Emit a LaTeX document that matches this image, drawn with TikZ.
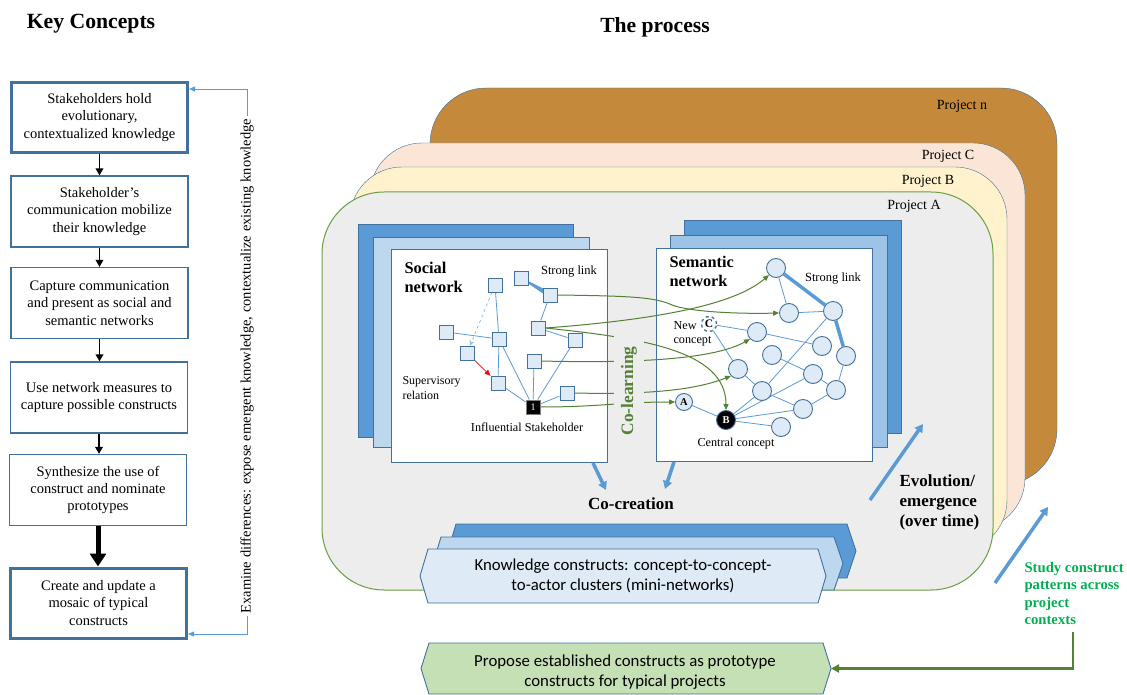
\documentclass[tikz,border=0pt]{standalone}
\usepackage{fontspec}
\setmainfont{Liberation Serif}
\newfontfamily\carl{Carlito}
\usetikzlibrary{arrows.meta,calc}
\pgfdeclarelayer{bottom}
\pgfdeclarelayer{edgelayer}
\pgfsetlayers{bottom,edgelayer,main}
\definecolor{dblue}{HTML}{5B9BD5}
\definecolor{bord}{HTML}{41719C}
\definecolor{lblue}{HTML}{BDD7EE}
\definecolor{mblue}{HTML}{9DC3E6}
\definecolor{pale}{HTML}{DEEBF7}
\definecolor{projn}{HTML}{C5893B}
\definecolor{peach}{HTML}{FBE5D6}
\definecolor{cream}{HTML}{FFF2CC}
\definecolor{bg}{HTML}{EDEDED}
\definecolor{dgreen}{HTML}{548235}
\definecolor{agreen}{HTML}{6A9F45}
\definecolor{sgreen}{HTML}{00B050}
\definecolor{pgreen}{HTML}{C5E0B4}
\tikzset{
  kbox/.style={draw=bord, line width=1.2pt, fill=white, minimum width=177pt, minimum height=71pt, align=center, font=\fontsize{14.5}{17.3}\selectfont, inner sep=1pt},
  kthick/.style={kbox, line width=3pt, minimum width=176pt, minimum height=70pt},
  karrow/.style={line width=1.8pt, -{Triangle[length=7pt,width=7.5pt]}},
  kbig/.style={line width=5pt, -{Triangle[length=13pt,width=16pt]}},
  fbline/.style={draw=dblue, line width=0.8pt},
  sq/.style={draw=bord, fill=pale, line width=0.9pt, minimum size=14pt, inner sep=0pt},
  isq/.style={sq, fill=black, draw=gray, text=white, font=\fontsize{10}{10}\selectfont},
  cn/.style={circle, draw=bord, fill=pale, line width=0.9pt, minimum size=19pt, inner sep=0pt},
  an/.style={cn, minimum size=17pt, font=\bfseries\fontsize{10.5}{10.5}\selectfont},
  bn/.style={cn, fill=black, draw=bord, text=white, font=\bfseries\fontsize{10.5}{10.5}\selectfont},
  ccn/.style={circle, draw=bord, dashed, line width=1.3pt, fill=white, minimum size=15pt, inner sep=0pt, font=\bfseries\fontsize{11.5}{11.5}\selectfont},
  lnk/.style={draw=dblue, line width=0.8pt},
  slnk/.style={draw=dblue, line width=3.5pt},
  garrow/.style={draw=dgreen, line width=1pt, -{Triangle[length=6pt,width=5pt]}},
  bigarrow/.style={draw=dblue, line width=3.5pt, -{Triangle[length=8pt,width=9pt]}},
  plabel/.style={font=\fontsize{14}{16}\selectfont},
  small/.style={font=\fontsize{12.2}{14}\selectfont},
  hexfront/.style={draw=bord, line width=0.9pt, fill=pale},
}
\begin{document}
\begin{tikzpicture}[x=1pt,y=-1pt]
\useasboundingbox (0,0) rectangle (1127,695);

% ---------- background layer ----------
\begin{pgfonlayer}{bottom}
\draw[draw=bord, fill=projn, rounded corners=56pt] (430,88) rectangle (1057,485);
\draw[draw=bord, fill=peach, rounded corners=52pt] (370,143) rectangle (1025,530);
\draw[draw=bord, fill=cream, rounded corners=52pt] (350,167) rectangle (1007,552);
\draw[draw=agreen, line width=1pt, fill=bg, rounded corners=62pt] (322,192) rectangle (993,590);
% social panels
\draw[draw=bord, fill=dblue] (358,224) rectangle (573,437);
\draw[draw=bord, fill=lblue] (373,237) rectangle (589,447);
\draw[draw=bord, fill=white] (391,249) rectangle (607,462);
% semantic panels
\draw[draw=bord, fill=dblue] (684,220) rectangle (901,433);
\draw[draw=bord, fill=mblue] (670,235) rectangle (887,447);
\draw[draw=bord, fill=white] (656,248) rectangle (872,461);
% knowledge construct hexagons
\draw[draw=bord, line width=0.9pt, fill=dblue] (456,524) -- (847,524) -- (856,551) -- (847,578) -- (456,578) -- (448,551) -- cycle;
\draw[draw=bord, line width=0.9pt, fill=lblue] (441,537) -- (834,537) -- (843,563.5) -- (834,590) -- (441,590) -- (433,563.5) -- cycle;
\draw[hexfront] (428,549) -- (818,549) -- (826,576) -- (818,603) -- (428,603) -- (420,576) -- cycle;
% prototype hexagon
\draw[draw=bord, line width=0.9pt, fill=pgreen] (429,643) -- (823,643) -- (831,668.5) -- (823,694) -- (429,694) -- (421,668.5) -- cycle;
\end{pgfonlayer}

% ---------- titles ----------
\node[font=\bfseries\fontsize{21.7}{24}\selectfont] (tkc) at (91,24) {Key Concepts};
\node[font=\bfseries\fontsize{21.6}{24}\selectfont] (tpr) at (655,27) {The process};

% ---------- key concepts column ----------
\node[kthick] (k1) at (99.5,117.5) {Stakeholders hold\\evolutionary,\\contextualized knowledge};
\node[kbox] (k2) at (99.5,211.5) {Stakeholder’s\\communication mobilize\\their knowledge};
\node[kbox] (k3) at (99.5,303) {Capture communication\\and present as social and\\semantic networks};
\node[kbox] (k4) at (99,397.5) {Use network measures to\\capture possible constructs};
\node[kbox] (k5) at (98,490) {Synthesize the use of\\construct and nominate\\prototypes};
\node[kthick] (k6) at (98.5,603) {Create and update a\\mosaic of typical\\constructs};

\draw[karrow] (k1.south) -- (k1.south |- k2.north);
\draw[karrow] (k2.south) -- (k2.south |- k3.north);
\draw[karrow] (k3.south) -- (k3.south |- k4.north);
\draw[karrow] (k4.south) -- (k4.south |- k5.north);
\draw[kbig] (k5.south) -- (k5.south |- k6.north);

\coordinate (fbA) at (247,634);
\coordinate (fbB) at (247,89);
\begin{pgfonlayer}{edgelayer}
\draw[fbline, {Triangle[length=6pt,width=5pt]}-{Triangle[length=6pt,width=5pt]}] (k6.east |- fbA) -- (fbA) -- (fbB) -- (k1.east |- fbB);
\end{pgfonlayer}
\node[rotate=90, fill=white, inner xsep=3pt, inner ysep=1pt, font=\fontsize{14.5}{16}\selectfont] (fbt) at (247,366) {Examine differences: expose emergent knowledge, contextualize existing knowledge};

% ---------- project labels ----------
\node[plabel] (pn) at (962,106) {Project n};
\node[plabel] (pc) at (948,156) {Project C};
\node[plabel] (pb) at (928,181) {Project B};
\node[plabel] (pa) at (914,206) {Project A};

% ---------- social network ----------
\node[anchor=west, align=left, font=\bfseries\fontsize{16.4}{19}\selectfont] (soct) at (401,277.5) {Social\\network};
\node[font=\fontsize{12.5}{14}\selectfont] (sl1) at (569,272) {Strong link};
\node[anchor=west, align=left, font=\fontsize{12}{15}\selectfont] (supr) at (399,388.5) {Supervisory\\relation};
\node[small] (infl) at (527,427) {Influential Stakeholder};

\node[sq] (n1) at (521,278) {};
\node[sq] (n2) at (550,295) {};
\node[sq] (n3) at (495,285) {};
\node[sq] (n4) at (446,332) {};
\node[sq] (n5) at (499,339) {};
\node[sq] (n6) at (538,328) {};
\node[sq] (n7) at (575,340) {};
\node[sq] (n8) at (467,353) {};
\node[sq] (n9) at (498,383) {};
\node[sq] (n10) at (534,361) {};
\node[sq] (n11) at (567,393) {};
\node[isq] (inf) at (533,407) {1};

% ---------- semantic network ----------
\node[anchor=west, align=left, font=\bfseries\fontsize{16.3}{19}\selectfont] (semt) at (666,271.5) {Semantic\\network};
\node[font=\fontsize{12.5}{14}\selectfont] (sl2) at (833,279) {Strong link};
\node[anchor=west, align=left, small] (newc) at (670,334) {New\\concept};
\node[small] (cenc) at (736,444) {Central concept};

\node[cn] (s1) at (776,268) {};
\node[cn] (s2) at (789,313) {};
\node[cn] (s3) at (833,311) {};
\node[ccn] (C) at (709,324) {C};
\node[cn] (s4) at (757,332) {};
\node[cn] (s5) at (822,346) {};
\node[cn] (s6) at (772,355) {};
\node[cn] (s7) at (846,356) {};
\node[cn] (s8) at (738,369) {};
\node[cn] (s9) at (813,374) {};
\node[cn] (s10) at (762,391) {};
\node[cn] (s11) at (836,390) {};
\node[an] (A) at (684,402) {A};
\node[cn] (s12) at (803,409) {};
\node[bn] (B) at (726,420) {B};
\node[cn] (s13) at (781,427) {};

% ---------- edges ----------
\begin{pgfonlayer}{edgelayer}
\fill[dblue] ($(n1)!0.4pt!90:(n2)$) -- ($(n1)!0.4pt!-90:(n2)$) -- ($(n2)!2.8pt!90:(n1)$) -- ($(n2)!2.8pt!-90:(n1)$) -- cycle;
\draw[lnk] (n2) -- (n6);
\draw[lnk] (n3) -- (n5);
\draw[lnk] (n4) -- (n5);
\draw[lnk] (n5) -- (n9);
\draw[lnk] (n5) -- (inf);
\draw[lnk] (n6) -- (n7);
\draw[lnk] (n7) -- (inf);
\draw[lnk] (n10) -- (inf);
\draw[lnk] (n9) -- (inf);
\draw[lnk] (n11) -- (inf);
\draw[draw=dblue!70, line width=0.7pt, dashed, -{Stealth[length=5pt,width=5pt,open]}] (n3) -- (n8);
\draw[draw=red, line width=0.7pt, -{Triangle[length=6pt,width=5pt]}] (n8) -- (n9);

\draw[slnk] (s1) -- (s3);
\draw[slnk] (s3) -- (s7);
\draw[lnk] (s1) -- (s2);
\draw[lnk] (s2) -- (s3);
\draw[lnk] (C) -- (s4);
\draw[lnk] (C) -- (s8);
\draw[lnk] (s4) -- (s5);
\draw[lnk] (s3) -- (s10);
\draw[lnk] (s6) -- (s9);
\draw[lnk] (s8) -- (s10);
\draw[lnk] (s9) -- (s11);
\draw[lnk] (s10) -- (s12);
\draw[lnk] (s7) -- (s11);
\draw[lnk] (s11) -- (s12);
\draw[lnk] (B) -- (s10);
\draw[lnk] (B) -- (s9);
\draw[lnk] (B) -- (s12);
\draw[lnk] (B) -- (s13);
\draw[lnk] (A) -- (B);

% green co-learning arrows
\draw[garrow] (n2.east) .. controls (630,296) and (655,297) .. (672,305) .. controls (690,312) and (740,314) .. (s2.west);
\draw[garrow] (n6.east) .. controls (680,318) and (740,300) .. (s1.south west);
\draw[garrow] (n6.east) .. controls (640,338) and (726,350) .. (B.north);
\draw[garrow] (n10.east) .. controls (660,364) and (720,356) .. (s4.south west);
\draw[garrow] (n11.east) .. controls (660,395) and (700,388) .. (s8.south west);
\draw[garrow] (inf.east) .. controls (600,407) and (620,402) .. (A.west);
\end{pgfonlayer}

\node[rotate=90, fill=bg, text=dgreen, font=\bfseries\fontsize{17.4}{19}\selectfont, inner xsep=11pt, inner ysep=7pt] (colearn) at (629,391) {Co-learning};

% ---------- co-creation ----------
\node[font=\bfseries\fontsize{17}{19}\selectfont] (cocr) at (631,504) {Co-creation};
\coordinate (caS) at (593,463);
\coordinate (caE) at (606,490);
\coordinate (cbS) at (674,462);
\coordinate (cbE) at (665,489);
\draw[bigarrow] (caS) -- (caE);
\draw[bigarrow] (cbS) -- (cbE);

% ---------- evolution ----------
\node[anchor=west, align=left, font=\bfseries\fontsize{17}{20}\selectfont] (evo) at (896,502) {Evolution/\\emergence\\(over time)};
\coordinate (evS) at (870,500);
\coordinate (evE) at (923,424);
\draw[bigarrow] (evS) -- (evE);

% ---------- study ----------
\node[anchor=west, align=left, text=sgreen, font=\bfseries\fontsize{14.7}{17.5}\selectfont] (study) at (1021,593.5) {Study construct\\patterns across\\project\\contexts};
\coordinate (stS) at (995,583);
\coordinate (stE) at (1048,507);
\draw[bigarrow] (stS) -- (stE);

% ---------- hexagon texts ----------
\node[align=center, font=\carl\fontsize{16.8}{19.5}\selectfont] (know) at (623,576) {Knowledge constructs: concept-to-concept-\\to-actor clusters (mini-networks)};
\node[align=center, font=\carl\fontsize{16.8}{20.5}\selectfont] (proto) at (625,672) {Propose established constructs as prototype\\constructs for typical projects};
\coordinate (protoTip) at (831,668.5);
\coordinate (sgA) at (1073,632);
\draw[draw=dgreen, line width=2.5pt, -{Triangle[length=8pt,width=8pt]}] (sgA) -- (sgA |- protoTip) -- (protoTip);
\end{tikzpicture}
\end{document}
